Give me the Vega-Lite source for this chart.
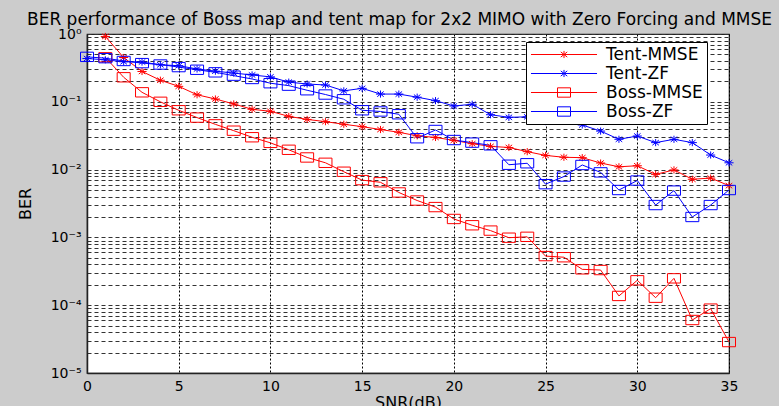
{
  "$schema": "https://vega.github.io/schema/vega-lite/v6.json",
  "width": 642,
  "height": 339,
  "autosize": {"type": "none"},
  "padding": {"left": 87, "top": 34, "right": 50, "bottom": 33},
  "background": "#cccccc",
  "title": {
    "text": "BER performance of Boss map and tent map for 2x2 MIMO with Zero Forcing and MMSE",
    "anchor": "start",
    "frame": "group",
    "dx": -60,
    "dy": 17,
    "offset": 2,
    "baseline": "alphabetic",
    "font": "DejaVu Sans",
    "fontSize": 17,
    "fontWeight": "normal",
    "color": "black"
  },
  "data": {
    "values": [
      {"series": "Tent-MMSE", "snr": 1, "ber": 0.92},
      {"series": "Tent-MMSE", "snr": 2, "ber": 0.45},
      {"series": "Tent-MMSE", "snr": 3, "ber": 0.28},
      {"series": "Tent-MMSE", "snr": 4, "ber": 0.208},
      {"series": "Tent-MMSE", "snr": 5, "ber": 0.169},
      {"series": "Tent-MMSE", "snr": 6, "ber": 0.127},
      {"series": "Tent-MMSE", "snr": 7, "ber": 0.11},
      {"series": "Tent-MMSE", "snr": 8, "ber": 0.093},
      {"series": "Tent-MMSE", "snr": 9, "ber": 0.0775},
      {"series": "Tent-MMSE", "snr": 10, "ber": 0.0724},
      {"series": "Tent-MMSE", "snr": 11, "ber": 0.061},
      {"series": "Tent-MMSE", "snr": 12, "ber": 0.055},
      {"series": "Tent-MMSE", "snr": 13, "ber": 0.051},
      {"series": "Tent-MMSE", "snr": 14, "ber": 0.0466},
      {"series": "Tent-MMSE", "snr": 15, "ber": 0.043},
      {"series": "Tent-MMSE", "snr": 16, "ber": 0.039},
      {"series": "Tent-MMSE", "snr": 17, "ber": 0.0355},
      {"series": "Tent-MMSE", "snr": 18, "ber": 0.0315},
      {"series": "Tent-MMSE", "snr": 19, "ber": 0.0298},
      {"series": "Tent-MMSE", "snr": 20, "ber": 0.027},
      {"series": "Tent-MMSE", "snr": 21, "ber": 0.0241},
      {"series": "Tent-MMSE", "snr": 22, "ber": 0.022},
      {"series": "Tent-MMSE", "snr": 23, "ber": 0.0212},
      {"series": "Tent-MMSE", "snr": 24, "ber": 0.0184},
      {"series": "Tent-MMSE", "snr": 25, "ber": 0.0162},
      {"series": "Tent-MMSE", "snr": 26, "ber": 0.0152},
      {"series": "Tent-MMSE", "snr": 27, "ber": 0.015},
      {"series": "Tent-MMSE", "snr": 28, "ber": 0.0125},
      {"series": "Tent-MMSE", "snr": 29, "ber": 0.011},
      {"series": "Tent-MMSE", "snr": 30, "ber": 0.0114},
      {"series": "Tent-MMSE", "snr": 31, "ber": 0.0085},
      {"series": "Tent-MMSE", "snr": 32, "ber": 0.0099},
      {"series": "Tent-MMSE", "snr": 33, "ber": 0.0072},
      {"series": "Tent-MMSE", "snr": 34, "ber": 0.0075},
      {"series": "Tent-MMSE", "snr": 35, "ber": 0.0058},

      {"series": "Tent-ZF", "snr": 0, "ber": 0.435},
      {"series": "Tent-ZF", "snr": 1, "ber": 0.416},
      {"series": "Tent-ZF", "snr": 2, "ber": 0.39},
      {"series": "Tent-ZF", "snr": 3, "ber": 0.386},
      {"series": "Tent-ZF", "snr": 4, "ber": 0.351},
      {"series": "Tent-ZF", "snr": 5, "ber": 0.341},
      {"series": "Tent-ZF", "snr": 6, "ber": 0.305},
      {"series": "Tent-ZF", "snr": 7, "ber": 0.283},
      {"series": "Tent-ZF", "snr": 8, "ber": 0.265},
      {"series": "Tent-ZF", "snr": 9, "ber": 0.249},
      {"series": "Tent-ZF", "snr": 10, "ber": 0.233},
      {"series": "Tent-ZF", "snr": 11, "ber": 0.195},
      {"series": "Tent-ZF", "snr": 12, "ber": 0.183},
      {"series": "Tent-ZF", "snr": 13, "ber": 0.177},
      {"series": "Tent-ZF", "snr": 14, "ber": 0.145},
      {"series": "Tent-ZF", "snr": 15, "ber": 0.158},
      {"series": "Tent-ZF", "snr": 16, "ber": 0.13},
      {"series": "Tent-ZF", "snr": 17, "ber": 0.13},
      {"series": "Tent-ZF", "snr": 18, "ber": 0.117},
      {"series": "Tent-ZF", "snr": 19, "ber": 0.104},
      {"series": "Tent-ZF", "snr": 20, "ber": 0.0867},
      {"series": "Tent-ZF", "snr": 21, "ber": 0.092},
      {"series": "Tent-ZF", "snr": 22, "ber": 0.0645},
      {"series": "Tent-ZF", "snr": 23, "ber": 0.059},
      {"series": "Tent-ZF", "snr": 24, "ber": 0.06},
      {"series": "Tent-ZF", "snr": 25, "ber": 0.051},
      {"series": "Tent-ZF", "snr": 26, "ber": 0.055},
      {"series": "Tent-ZF", "snr": 27, "ber": 0.0455},
      {"series": "Tent-ZF", "snr": 28, "ber": 0.037},
      {"series": "Tent-ZF", "snr": 29, "ber": 0.028},
      {"series": "Tent-ZF", "snr": 30, "ber": 0.0313},
      {"series": "Tent-ZF", "snr": 31, "ber": 0.025},
      {"series": "Tent-ZF", "snr": 32, "ber": 0.028},
      {"series": "Tent-ZF", "snr": 33, "ber": 0.025},
      {"series": "Tent-ZF", "snr": 34, "ber": 0.0164},
      {"series": "Tent-ZF", "snr": 35, "ber": 0.0126},

      {"series": "Boss-MMSE", "snr": 1, "ber": 0.453},
      {"series": "Boss-MMSE", "snr": 2, "ber": 0.23},
      {"series": "Boss-MMSE", "snr": 3, "ber": 0.138},
      {"series": "Boss-MMSE", "snr": 4, "ber": 0.1},
      {"series": "Boss-MMSE", "snr": 5, "ber": 0.075},
      {"series": "Boss-MMSE", "snr": 6, "ber": 0.0585},
      {"series": "Boss-MMSE", "snr": 7, "ber": 0.0465},
      {"series": "Boss-MMSE", "snr": 8, "ber": 0.0375},
      {"series": "Boss-MMSE", "snr": 9, "ber": 0.03},
      {"series": "Boss-MMSE", "snr": 10, "ber": 0.0248},
      {"series": "Boss-MMSE", "snr": 11, "ber": 0.0196},
      {"series": "Boss-MMSE", "snr": 12, "ber": 0.0151},
      {"series": "Boss-MMSE", "snr": 13, "ber": 0.0126},
      {"series": "Boss-MMSE", "snr": 14, "ber": 0.0093},
      {"series": "Boss-MMSE", "snr": 15, "ber": 0.007},
      {"series": "Boss-MMSE", "snr": 16, "ber": 0.0065},
      {"series": "Boss-MMSE", "snr": 17, "ber": 0.0046},
      {"series": "Boss-MMSE", "snr": 18, "ber": 0.0035},
      {"series": "Boss-MMSE", "snr": 19, "ber": 0.0028},
      {"series": "Boss-MMSE", "snr": 20, "ber": 0.00187},
      {"series": "Boss-MMSE", "snr": 21, "ber": 0.00151},
      {"series": "Boss-MMSE", "snr": 22, "ber": 0.00126},
      {"series": "Boss-MMSE", "snr": 23, "ber": 0.00099},
      {"series": "Boss-MMSE", "snr": 24, "ber": 0.00102},
      {"series": "Boss-MMSE", "snr": 25, "ber": 0.00053},
      {"series": "Boss-MMSE", "snr": 26, "ber": 0.00051},
      {"series": "Boss-MMSE", "snr": 27, "ber": 0.000338},
      {"series": "Boss-MMSE", "snr": 28, "ber": 0.00033},
      {"series": "Boss-MMSE", "snr": 29, "ber": 0.000137},
      {"series": "Boss-MMSE", "snr": 30, "ber": 0.000233},
      {"series": "Boss-MMSE", "snr": 31, "ber": 0.000129},
      {"series": "Boss-MMSE", "snr": 32, "ber": 0.000249},
      {"series": "Boss-MMSE", "snr": 33, "ber": 0.0000605},
      {"series": "Boss-MMSE", "snr": 34, "ber": 0.000089},
      {"series": "Boss-MMSE", "snr": 35, "ber": 0.0000286},

      {"series": "Boss-ZF", "snr": 0, "ber": 0.46},
      {"series": "Boss-ZF", "snr": 1, "ber": 0.44},
      {"series": "Boss-ZF", "snr": 2, "ber": 0.4},
      {"series": "Boss-ZF", "snr": 3, "ber": 0.372},
      {"series": "Boss-ZF", "snr": 4, "ber": 0.355},
      {"series": "Boss-ZF", "snr": 5, "ber": 0.325},
      {"series": "Boss-ZF", "snr": 6, "ber": 0.297},
      {"series": "Boss-ZF", "snr": 7, "ber": 0.272},
      {"series": "Boss-ZF", "snr": 8, "ber": 0.243},
      {"series": "Boss-ZF", "snr": 9, "ber": 0.217},
      {"series": "Boss-ZF", "snr": 10, "ber": 0.188},
      {"series": "Boss-ZF", "snr": 11, "ber": 0.173},
      {"series": "Boss-ZF", "snr": 12, "ber": 0.148},
      {"series": "Boss-ZF", "snr": 13, "ber": 0.128},
      {"series": "Boss-ZF", "snr": 14, "ber": 0.109},
      {"series": "Boss-ZF", "snr": 15, "ber": 0.075},
      {"series": "Boss-ZF", "snr": 16, "ber": 0.072},
      {"series": "Boss-ZF", "snr": 17, "ber": 0.0655},
      {"series": "Boss-ZF", "snr": 18, "ber": 0.029},
      {"series": "Boss-ZF", "snr": 19, "ber": 0.0384},
      {"series": "Boss-ZF", "snr": 20, "ber": 0.0273},
      {"series": "Boss-ZF", "snr": 21, "ber": 0.025},
      {"series": "Boss-ZF", "snr": 22, "ber": 0.0228},
      {"series": "Boss-ZF", "snr": 23, "ber": 0.0118},
      {"series": "Boss-ZF", "snr": 24, "ber": 0.0124},
      {"series": "Boss-ZF", "snr": 25, "ber": 0.0061},
      {"series": "Boss-ZF", "snr": 26, "ber": 0.0079},
      {"series": "Boss-ZF", "snr": 27, "ber": 0.0117},
      {"series": "Boss-ZF", "snr": 28, "ber": 0.0091},
      {"series": "Boss-ZF", "snr": 29, "ber": 0.005},
      {"series": "Boss-ZF", "snr": 30, "ber": 0.0069},
      {"series": "Boss-ZF", "snr": 31, "ber": 0.003},
      {"series": "Boss-ZF", "snr": 32, "ber": 0.0049},
      {"series": "Boss-ZF", "snr": 33, "ber": 0.002},
      {"series": "Boss-ZF", "snr": 34, "ber": 0.003},
      {"series": "Boss-ZF", "snr": 35, "ber": 0.005}
    ]
  },
  "encoding": {
    "x": {
      "field": "snr",
      "type": "quantitative",
      "scale": {"domain": [0, 35], "nice": false, "zero": false},
      "axis": {
        "title": "SNR(dB)",
        "values": [0, 5, 10, 15, 20, 25, 30, 35],
        "format": "d",
        "labelFlush": false,
        "labelPadding": 6,
        "ticks": false,
        "grid": true,
        "gridColor": "#000000",
        "gridDash": [2, 2],
        "gridWidth": 1,
        "gridOpacity": 1,
        "titleBaseline": "top",
        "titleY": 21,
        "titleX": 321
      }
    },
    "y": {
      "field": "ber",
      "type": "quantitative",
      "scale": {"type": "log", "domain": [0.00001, 1], "nice": false},
      "axis": {
        "title": "BER",
        "values": [
          0.00001, 0.00002, 0.00003, 0.00004, 0.00005, 0.00006, 0.00007, 0.00008, 0.00009,
          0.0001, 0.0002, 0.0003, 0.0004, 0.0005, 0.0006, 0.0007, 0.0008, 0.0009,
          0.001, 0.002, 0.003, 0.004, 0.005, 0.006, 0.007, 0.008, 0.009,
          0.01, 0.02, 0.03, 0.04, 0.05, 0.06, 0.07, 0.08, 0.09,
          0.1, 0.2, 0.3, 0.4, 0.5, 0.6, 0.7, 0.8, 0.9, 1
        ],
        "labelExpr": "abs(log(datum.value)/LN10 - round(log(datum.value)/LN10)) < 0.0001 ? '10' + ['⁰','⁻¹','⁻²','⁻³','⁻⁴','⁻⁵'][-round(log(datum.value)/LN10)] : ''",
        "labelOverlap": false,
        "labelPadding": 6,
        "ticks": false,
        "grid": true,
        "gridColor": "#333333",
        "gridDash": [4, 3],
        "gridWidth": 1,
        "gridOpacity": 1,
        "titleAngle": -90,
        "titleAlign": "center",
        "titleBaseline": "middle",
        "titleX": -62,
        "titleY": 169.5
      }
    }
  },
  "layer": [
    {
      "mark": {"type": "line", "strokeWidth": 1},
      "encoding": {
        "color": {
          "field": "series",
          "type": "nominal",
          "scale": {
            "domain": ["Tent-MMSE", "Tent-ZF", "Boss-MMSE", "Boss-ZF"],
            "range": ["#ff0000", "#0000ff", "#ff0000", "#0000ff"]
          },
          "legend": null
        }
      }
    },
    {
      "mark": {"type": "point", "filled": false, "strokeWidth": 1, "size": 169, "opacity": 1},
      "encoding": {
        "color": {"field": "series", "type": "nominal", "legend": null},
        "shape": {
          "field": "series",
          "type": "nominal",
          "legend": null,
          "scale": {
            "domain": ["Tent-MMSE", "Tent-ZF", "Boss-MMSE", "Boss-ZF"],
            "range": [
              "M-0.7,0H0.7M0,-0.55V0.55M-0.5,-0.4L0.5,0.4M-0.5,0.4L0.5,-0.4",
              "M-0.7,0H0.7M0,-0.55V0.55M-0.5,-0.4L0.5,0.4M-0.5,0.4L0.5,-0.4",
              "M-1,-0.72H1V0.72H-1Z",
              "M-1,-0.72H1V0.72H-1Z"
            ]
          }
        }
      }
    },
    {
      "mark": {"type": "point", "filled": false, "strokeWidth": 1, "size": 169, "opacity": 0},
      "encoding": {
        "color": {
          "field": "series",
          "type": "nominal",
          "legend": {
            "title": null,
            "orient": "none",
            "legendX": 439,
            "legendY": 8,
            "padding": 4,
            "strokeColor": "#000000",
            "fillColor": "#ffffff",
            "symbolOffset": 25.5,
            "labelOffset": 33.5,
            "rowPadding": 1,
            "labelFont": "DejaVu Sans",
            "labelFontSize": 17,
            "labelColor": "#000000",
            "symbolStrokeWidth": 1,
            "symbolOpacity": 1,
            "symbolSize": 169
          }
        },
        "shape": {
          "field": "series",
          "type": "nominal",
          "legend": {
            "title": null,
            "orient": "none",
            "legendX": 439,
            "legendY": 8,
            "padding": 4,
            "strokeColor": "#000000",
            "fillColor": "#ffffff",
            "symbolOffset": 25.5,
            "labelOffset": 33.5,
            "rowPadding": 1,
            "labelFont": "DejaVu Sans",
            "labelFontSize": 17,
            "labelColor": "#000000",
            "symbolStrokeWidth": 1,
            "symbolOpacity": 1,
            "symbolSize": 169
          },
          "scale": {
            "domain": ["Tent-MMSE", "Tent-ZF", "Boss-MMSE", "Boss-ZF"],
            "range": [
              "M-5.08,0H5.08M-0.7,0H0.7M0,-0.55V0.55M-0.5,-0.4L0.5,0.4M-0.5,0.4L0.5,-0.4",
              "M-5.08,0H5.08M-0.7,0H0.7M0,-0.55V0.55M-0.5,-0.4L0.5,0.4M-0.5,0.4L0.5,-0.4",
              "M-5.08,0H5.08M-1,-0.72H1V0.72H-1Z",
              "M-5.08,0H5.08M-1,-0.72H1V0.72H-1Z"
            ]
          }
        }
      }
    }
  ],
  "resolve": {
    "scale": {"shape": "independent"},
    "legend": {"shape": "independent", "color": "independent"}
  },
  "config": {
    "font": "DejaVu Sans",
    "view": {"fill": "#ffffff", "stroke": "#222222", "strokeWidth": 1.2},
    "axis": {
      "domainColor": "#222222",
      "domainWidth": 1.5,
      "labelFont": "DejaVu Sans",
      "labelFontSize": 14,
      "labelColor": "#000000",
      "titleFont": "DejaVu Sans",
      "titleFontSize": 16,
      "titleFontWeight": "normal",
      "titleColor": "#000000"
    }
  }
}
